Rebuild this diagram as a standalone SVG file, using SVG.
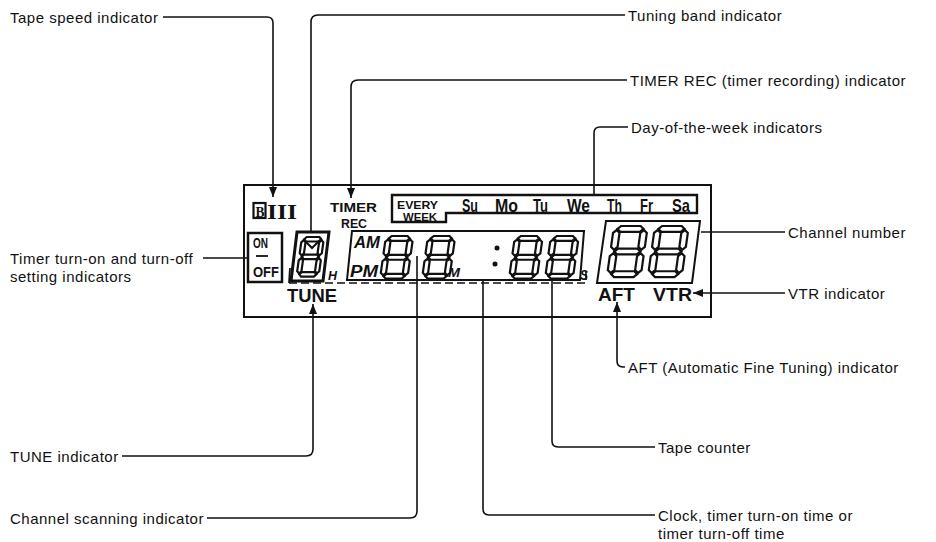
<svg xmlns="http://www.w3.org/2000/svg" xmlns:xlink="http://www.w3.org/1999/xlink" width="936" height="542" viewBox="0 0 936 542">
<style>
.lbl{font-family:"Liberation Sans",Arial,sans-serif;font-size:15px;letter-spacing:0.5px;fill:#111}
.lead{fill:none;stroke:#111;stroke-width:1.6}
.frm{fill:none;stroke:#111;stroke-width:2}
.lcd{font-family:"Liberation Sans",Arial,sans-serif;font-weight:bold;fill:#111}
.it{font-style:italic}
.seg path{fill:#fff;stroke:#111;stroke-width:2.2}
.dash{fill:none;stroke:#111;stroke-width:1.6;stroke-dasharray:8 4}
</style>
<defs>
<marker id="ah" viewBox="0 0 10 8" refX="10" refY="4" markerWidth="10" markerHeight="8" markerUnits="userSpaceOnUse" orient="auto">
<path d="M0,0 L10,4 L0,8 Z" fill="#111"/>
</marker>
<g id="d8" class="seg">
<path vector-effect="non-scaling-stroke" d="M3,2.5 L5.5,0 H20.5 L23,2.5 L20.5,5 H5.5 Z"/>
<path vector-effect="non-scaling-stroke" d="M3,22 L5.5,19.5 H20.5 L23,22 L20.5,24.5 H5.5 Z"/>
<path vector-effect="non-scaling-stroke" d="M3,41.5 L5.5,39 H20.5 L23,41.5 L20.5,44 H5.5 Z"/>
<path vector-effect="non-scaling-stroke" d="M2.5,3.5 L5,6 V18 L2.5,20.5 L0,18 V6 Z"/>
<path vector-effect="non-scaling-stroke" d="M23.5,3.5 L26,6 V18 L23.5,20.5 L21,18 V6 Z"/>
<path vector-effect="non-scaling-stroke" d="M2.5,23.5 L5,26 V38 L2.5,40.5 L0,38 V26 Z"/>
<path vector-effect="non-scaling-stroke" d="M23.5,23.5 L26,26 V38 L23.5,40.5 L21,38 V26 Z"/>
</g>
</defs>

<g id="connectors">
<path class="lead" d="M163,17 H267 Q273,17 273,23 V197" marker-end="url(#ah)"/>
<path class="lead" d="M625,15 H318 Q311,15 311,22 V232"/>
<path class="lead" d="M627,80 H358 Q351,80 351,87 V198" marker-end="url(#ah)"/>
<path class="lead" d="M628,127 H600 Q594,127 594,133 V194"/>
<path class="lead" d="M701,232 H785"/>
<path class="lead" d="M203,258 H248"/>
<path class="lead" d="M785,293 H693" marker-end="url(#ah)"/>
<path class="lead" d="M625,367 H623 Q617,367 617,361 V302" marker-end="url(#ah)"/>
<path class="lead" d="M122,456 H306 Q313,456 313,449 V304" marker-end="url(#ah)"/>
<path class="lead" d="M655,447 H558 Q552,447 552,441 V280"/>
<path class="lead" d="M207,518 H410 Q417,518 417,511 V256"/>
<path class="lead" d="M655,515 H489 Q483,515 483,509 V280"/>
</g>

<g id="labels">
<text class="lbl" x="10" y="23">Tape speed indicator</text>
<text class="lbl" x="628" y="20.5">Tuning band indicator</text>
<text class="lbl" x="630" y="85.5">TIMER REC (timer recording) indicator</text>
<text class="lbl" x="631" y="132.5">Day-of-the-week indicators</text>
<text class="lbl" x="788" y="238">Channel number</text>
<text class="lbl" x="10" y="263.5">Timer turn-on and turn-off</text>
<text class="lbl" x="10" y="281.5">setting indicators</text>
<text class="lbl" x="788" y="298.5">VTR indicator</text>
<text class="lbl" x="628" y="372.5">AFT (Automatic Fine Tuning) indicator</text>
<text class="lbl" x="10" y="461.5">TUNE indicator</text>
<text class="lbl" x="658" y="452.5">Tape counter</text>
<text class="lbl" x="10" y="523.5">Channel scanning indicator</text>
<text class="lbl" x="658" y="520.5">Clock, timer turn-on time or</text>
<text class="lbl" x="658" y="539">timer turn-off time</text>
</g>

<g id="display">
<rect class="frm" x="244" y="185" width="467" height="132"/>

<g id="tape-speed">
<rect x="253.5" y="203" width="12" height="15" fill="none" stroke="#111" stroke-width="2.2"/>
<text x="255.5" y="216.5" font-family="'Liberation Serif',serif" font-weight="bold" font-size="15" fill="#111" textLength="9" lengthAdjust="spacingAndGlyphs">B</text>
<text x="267" y="218.5" font-family="'Liberation Serif',serif" font-weight="bold" font-size="20" fill="#111" textLength="30" lengthAdjust="spacingAndGlyphs">III</text>
</g>

<g id="timer-rec">
<text class="lcd" x="330" y="212" font-size="13.5" textLength="47" lengthAdjust="spacingAndGlyphs">TIMER</text>
<text class="lcd" x="341" y="227.5" font-size="13.5" textLength="26" lengthAdjust="spacingAndGlyphs">REC</text>
</g>

<g id="days">
<path d="M392,195 H697 V213 H446 V222 H392 Z" fill="none" stroke="#111" stroke-width="2.4"/>
<text class="lcd" x="397" y="208.5" font-size="10.5" textLength="41" lengthAdjust="spacingAndGlyphs">EVERY</text>
<text class="lcd" x="403" y="220.5" font-size="10.5" textLength="34" lengthAdjust="spacingAndGlyphs">WEEK</text>
<text class="lcd" x="462" y="212" font-size="19" textLength="16" lengthAdjust="spacingAndGlyphs">Su</text>
<text class="lcd" x="495" y="212" font-size="19" textLength="23" lengthAdjust="spacingAndGlyphs">Mo</text>
<text class="lcd" x="533" y="212" font-size="19" textLength="15" lengthAdjust="spacingAndGlyphs">Tu</text>
<text class="lcd" x="567" y="212" font-size="19" textLength="23" lengthAdjust="spacingAndGlyphs">We</text>
<text class="lcd" x="607" y="212" font-size="19" textLength="15" lengthAdjust="spacingAndGlyphs">Th</text>
<text class="lcd" x="640" y="212" font-size="19" textLength="13" lengthAdjust="spacingAndGlyphs">Fr</text>
<text class="lcd" x="672" y="212" font-size="19" textLength="18" lengthAdjust="spacingAndGlyphs">Sa</text>
</g>

<g id="on-off">
<rect x="248" y="233" width="34" height="49" fill="none" stroke="#111" stroke-width="2.5"/>
<text class="lcd" x="253" y="248" font-size="14" textLength="15" lengthAdjust="spacingAndGlyphs">ON</text>
<line x1="256" y1="256" x2="268" y2="256" stroke="#111" stroke-width="1.8"/>
<text class="lcd" x="253" y="277" font-size="14" textLength="26" lengthAdjust="spacingAndGlyphs">OFF</text>
</g>

<g id="tune-digit">
<path d="M297,232 H329 L323,281 H291 Z" fill="none" stroke="#111" stroke-width="3"/>
<use xlink:href="#d8" href="#d8" transform="translate(302,237) skewX(-8) scale(0.85,0.9)"/>
<path d="M306,242 L312,248 L320,240" fill="none" stroke="#111" stroke-width="2"/>
<text class="lcd it" x="328" y="280" font-size="13" textLength="9" lengthAdjust="spacingAndGlyphs">H</text>
<line x1="290" y1="268" x2="289" y2="283" stroke="#111" stroke-width="1.8"/>
<text class="lcd" x="287" y="302" font-size="19" textLength="50" lengthAdjust="spacingAndGlyphs">TUNE</text>
</g>

<g id="clock">
<path d="M352,231 H584 L580,280 H347 Z" fill="none" stroke="#111" stroke-width="2"/>
<text class="lcd it" x="354" y="248" font-size="16" textLength="26" lengthAdjust="spacingAndGlyphs">AM</text>
<text class="lcd it" x="350" y="277" font-size="16" textLength="28" lengthAdjust="spacingAndGlyphs">PM</text>
<use xlink:href="#d8" href="#d8" transform="translate(386,236) skewX(-8) scale(1.05,0.97)"/>
<use xlink:href="#d8" href="#d8" transform="translate(428,236) skewX(-8) scale(1.05,0.97)"/>
<text class="lcd it" x="448" y="277" font-size="13" textLength="12" lengthAdjust="spacingAndGlyphs">M</text>
<circle cx="497" cy="248" r="2.5" fill="#111"/>
<circle cx="495" cy="264" r="2.5" fill="#111"/>
<use xlink:href="#d8" href="#d8" transform="translate(515,236) skewX(-8) scale(1.07,0.97)"/>
<use xlink:href="#d8" href="#d8" transform="translate(551,236) skewX(-8) scale(1.07,0.97)"/>
<text class="lcd it" x="580" y="280" font-size="14" textLength="8" lengthAdjust="spacingAndGlyphs">S</text>
<path class="dash" d="M289,283 H586 V268"/>
</g>

<g id="channel">
<path d="M606,221 H700 L692,283 H597 Z" fill="none" stroke="#111" stroke-width="2"/>
<use xlink:href="#d8" href="#d8" transform="translate(614,226) skewX(-8) scale(1.3,1.16)"/>
<use xlink:href="#d8" href="#d8" transform="translate(655,226) skewX(-8) scale(1.3,1.16)"/>
</g>

<g id="aft-vtr">
<text class="lcd" x="598" y="301" font-size="18" textLength="37" lengthAdjust="spacingAndGlyphs">AFT</text>
<text class="lcd" x="653" y="301" font-size="18" textLength="39" lengthAdjust="spacingAndGlyphs">VTR</text>
</g>
</g>
</svg>
